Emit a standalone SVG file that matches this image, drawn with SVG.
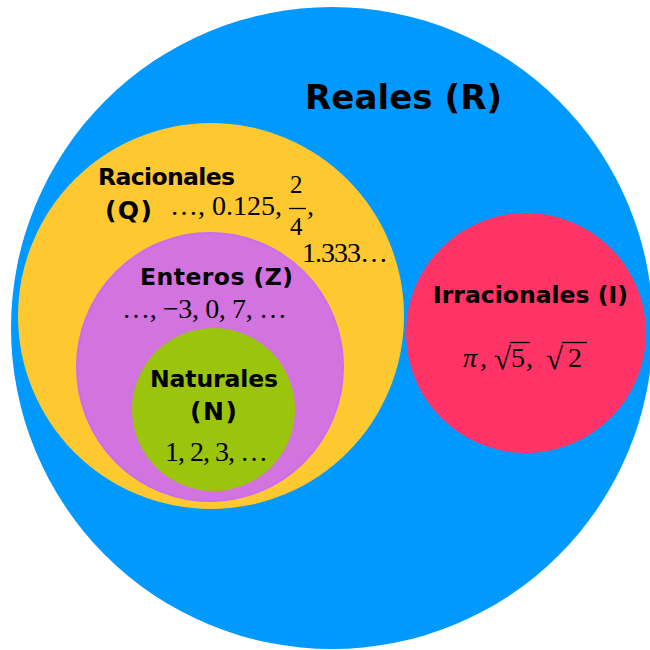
<svg xmlns="http://www.w3.org/2000/svg" width="650" height="650" viewBox="0 0 650 650">
<style>
.lab{font-family:"DejaVu Sans","Liberation Sans",sans-serif;font-weight:bold;fill:#000;font-size:23.5px}
.math{font-family:"Liberation Serif","DejaVu Serif",serif;fill:#000;font-size:28px}
.rad{font-family:"Liberation Serif","DejaVu Serif",serif;fill:#000;font-size:31px}
.bar{stroke:#000;stroke-width:1.3}
</style>
<rect width="650" height="650" fill="#ffffff"/>
<g id="reales">
<circle cx="332" cy="328" r="321" fill="#0099ff"/>
<text class="lab" x="305" y="109" style="font-size:34px" textLength="197">Reales (R)</text>
</g>
<g id="racionales">
<circle cx="211" cy="316" r="193" fill="#fdc830"/>
<text class="lab" x="98" y="185" textLength="137">Racionales</text>
<text class="lab" x="105" y="219" style="font-size:25px" textLength="47">(Q)</text>
<text class="math" x="170" y="215" textLength="112">…, 0.125,</text>
<text class="math" x="290" y="193" style="font-size:25px">2</text>
<line class="bar" x1="289" y1="208.5" x2="306" y2="208.5"/>
<text class="math" x="290" y="235" style="font-size:25px">4</text>
<text class="math" x="307" y="215">,</text>
<text class="math" x="302" y="262" textLength="86">1.333…</text>
</g>
<g id="enteros">
<ellipse cx="210" cy="367" rx="133" ry="134" fill="#d373e0" stroke="#c86ef0" stroke-width="2"/>
<text class="lab" x="140" y="285" textLength="153">Enteros (Z)</text>
<text class="math" x="122" y="318" textLength="165">…, −3, 0, 7, …</text>
</g>
<g id="naturales">
<circle cx="213.5" cy="409.5" r="81.5" fill="#9bc40d"/>
<text class="lab" x="150" y="387" textLength="128">Naturales</text>
<text class="lab" x="190" y="420" style="font-size:25px" textLength="47">(N)</text>
<text class="math" x="165" y="461" textLength="103">1, 2, 3, …</text>
</g>
<g id="irracionales">
<circle cx="526" cy="333" r="120" fill="#ff3366"/>
<text class="lab" x="433" y="303" textLength="195">Irracionales (I)</text>
<text class="math" x="463" y="367" style="font-style:italic">π</text>
<text class="math" x="480" y="367">,</text>
<text class="rad" x="494" y="369">√</text>
<line class="bar" x1="510" y1="342.5" x2="530" y2="342.5"/>
<text class="math" x="511" y="367">5</text>
<text class="math" x="526" y="367">,</text>
<text class="rad" x="546" y="369">√</text>
<line class="bar" x1="562" y1="342.5" x2="587" y2="342.5"/>
<text class="math" x="568" y="367">2</text>
</g>
</svg>
